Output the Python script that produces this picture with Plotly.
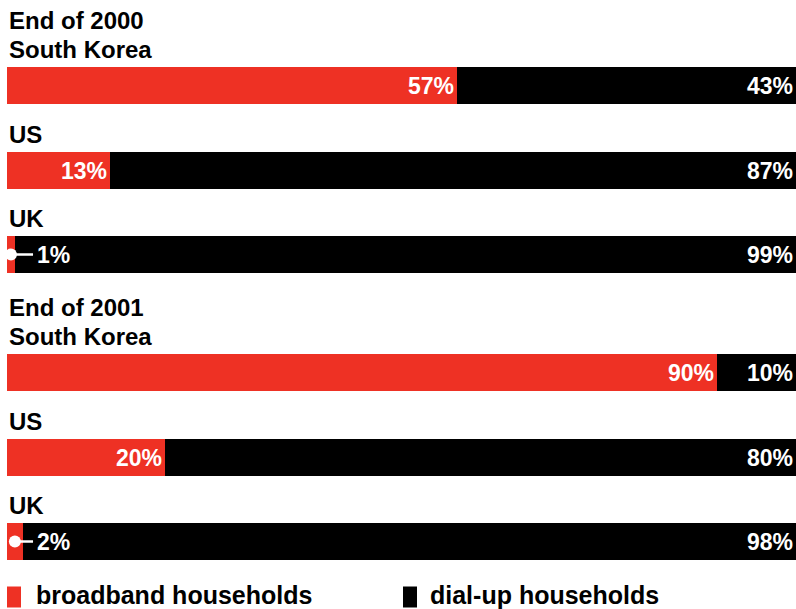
import plotly.graph_objects as go

# ---- data -------------------------------------------------------------
periods = ["End of 2000", "End of 2001"]
countries = ["South Korea", "US", "UK"]
broadband = [57, 13, 1, 90, 20, 2]      # % of internet households, in row order
dialup = [43, 87, 99, 10, 80, 98]

RED = "#ee3124"
BLACK = "#000000"
FONT = "Liberation Sans, Arial, sans-serif"

# ---- layout constants (y axis is measured in pixels from the top) -----
W, H = 796, 609
BAR_H = 37
TOP = 85.5            # centre of the first bar
ROW_STEP = 84.5       # distance between rows inside one period
GROUP_EXTRA = 33.5    # extra room for the period heading
SMALL = 5             # values below this get a callout instead of inside text
CALLOUT_X = 3.3       # where the callout line ends (x units)

rows = []
for g, period in enumerate(periods):
    for i, country in enumerate(countries):
        yc = TOP + g * (3 * ROW_STEP + GROUP_EXTRA) + i * ROW_STEP
        rows.append((period if i == 0 else None, country, yc))
ys = [r[2] for r in rows]

fig = go.Figure()

VAL_FONT = dict(family=FONT, size=23, color="white", weight="bold")

fig.add_trace(go.Bar(
    y=ys, x=broadband, orientation="h", width=BAR_H,
    marker=dict(color=RED, line=dict(width=0)),
    text=[f"{v}%" if v >= SMALL else "" for v in broadband],
    textposition="inside", insidetextanchor="end", constraintext="none",
    textfont=VAL_FONT, hoverinfo="skip", name="broadband households",
))
fig.add_trace(go.Bar(
    y=ys, x=dialup, orientation="h", width=BAR_H,
    marker=dict(color=BLACK, line=dict(width=0)),
    text=[f"{v}%" for v in dialup],
    textposition="inside", insidetextanchor="end", constraintext="none",
    textfont=VAL_FONT, hoverinfo="skip", name="dial-up households",
))

# callouts for the tiny broadband shares: dot, leader line and value
for v, y in zip(broadband, ys):
    if v < SMALL:
        fig.add_trace(go.Scatter(
            x=[v / 2, CALLOUT_X], y=[y, y], mode="lines+markers",
            line=dict(color="white", width=2.5),
            marker=dict(color="white", size=[12, 0], opacity=1,
                        line=dict(width=0)),
            hoverinfo="skip", showlegend=False,
        ))
        fig.add_annotation(x=CALLOUT_X, y=y, xref="x", yref="y",
                           text=f"{v}%", showarrow=False, xanchor="left",
                           yanchor="middle", xshift=2, yshift=0, font=VAL_FONT)

LABEL_FONT = dict(family=FONT, size=24, color="black", weight="bold")
for period, country, yc in rows:
    top = yc - BAR_H / 2
    fig.add_annotation(x=0, y=top, xref="x", yref="y", text=country,
                       showarrow=False, xanchor="left", yanchor="bottom",
                       yshift=2, font=LABEL_FONT)
    if period:
        fig.add_annotation(x=0, y=top - 29, xref="x", yref="y", text=period,
                           showarrow=False, xanchor="left", yanchor="bottom",
                           yshift=2, font=LABEL_FONT)

# legend: swatch + label for each series
LEG_Y = 597
LEG_FONT = dict(family=FONT, size=25, color="black", weight="bold")
PLOT_W = W - 7
for x0_px, color, label, tx_px in [(7, RED, "broadband households", 35),
                                   (403, BLACK, "dial-up households", 429)]:
    fig.add_shape(type="rect", xref="paper", yref="y",
                  x0=(x0_px - 7) / PLOT_W, x1=(x0_px + 14 - 7) / PLOT_W,
                  y0=LEG_Y - 10.5, y1=LEG_Y + 10.5,
                  fillcolor=color, line=dict(width=0))
    fig.add_annotation(x=(tx_px - 7) / PLOT_W, y=H, xref="paper", yref="y",
                       text=label, showarrow=False, xanchor="left",
                       yanchor="bottom", borderpad=0, yshift=-1, font=LEG_FONT)

fig.update_layout(
    width=W, height=H, barmode="stack", bargap=0,
    margin=dict(l=7, r=0, t=0, b=0),
    paper_bgcolor="white", plot_bgcolor="white",
    showlegend=False,
    xaxis=dict(range=[0, 100], visible=False, fixedrange=True),
    yaxis=dict(range=[H, 0], visible=False, fixedrange=True),
)

fig.write_html("out.html", config={"displayModeBar": False})
